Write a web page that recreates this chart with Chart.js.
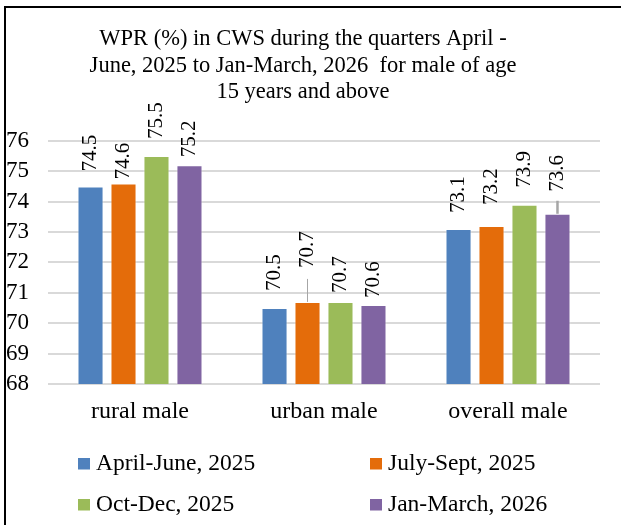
<!DOCTYPE html>
<html>
<head>
<meta charset="utf-8">
<title>WPR (%) in CWS - male</title>
<script src="https://cdn.jsdelivr.net/npm/chart.js@4"></script>
<style>
  html, body { margin: 0; padding: 0; background: #fff; overflow: hidden; }
  #frame {
    position: absolute; left: 4px; top: 6px; width: 615px; height: 519px;
    border-left: 2px solid #000; border-top: 2px solid #000;
  }
  #wrap { position: absolute; left: 0; top: 0; width: 621px; height: 525px; }
</style>
</head>
<body>
<div id="frame"></div>
<div id="wrap"><canvas id="wprChart"></canvas></div>
<script>
// ---- data ----
const categories = ['rural male', 'urban male', 'overall male'];
const quarters = ['April-June, 2025', 'July-Sept, 2025', 'Oct-Dec, 2025', 'Jan-March, 2026'];
const aprJun2025 = [74.5, 70.5, 73.1];
const julSep2025 = [74.6, 70.7, 73.2];
const octDec2025 = [75.5, 70.7, 73.9];
const janMar2026 = [75.2, 70.6, 73.6];
const yMin = 68;
const yMax = 76;
const titleLines = [
  'WPR (%) in CWS during the quarters April -',
  'June, 2025 to Jan-March, 2026  for male of age',
  '15 years and above'
];

const seriesValues = [aprJun2025, julSep2025, octDec2025, janMar2026];
const seriesColors = ['#4f81bd', '#e46c0a', '#9bbb59', '#8064a2'];
const serif = '"Liberation Serif", "Times New Roman", serif';

// rotated value labels above each bar (hand placed like in the original)
const barLabels = {
  id: 'barLabels',
  afterDatasetsDraw(chart, args, opts) {
    const ctx = chart.ctx;
    ctx.save();
    // leader lines first
    opts.leaders.forEach(([i, j, len, w]) => {
      const bar = chart.getDatasetMeta(i).data[j];
      ctx.strokeStyle = '#a6a6a6';
      ctx.lineWidth = w;
      ctx.beginPath();
      ctx.moveTo(bar.x, bar.y);
      ctx.lineTo(bar.x, bar.y - len);
      ctx.stroke();
    });
    ctx.font = '21px ' + serif;
    ctx.fillStyle = '#000';
    ctx.textAlign = 'left';
    ctx.textBaseline = 'middle';
    chart.data.datasets.forEach((ds, i) => {
      chart.getDatasetMeta(i).data.forEach((bar, j) => {
        ctx.save();
        ctx.translate(bar.x, bar.y - opts.lift[i][j]);
        ctx.rotate(-Math.PI / 2);
        ctx.fillText(ds.data[j].toFixed(1), 0, 0);
        ctx.restore();
      });
    });
    ctx.restore();
  }
};

// two-column legend at the bottom
const gridLegend = {
  id: 'gridLegend',
  afterDraw(chart) {
    const ctx = chart.ctx;
    const cols = [78, 370];
    const rows = [470, 511];
    ctx.save();
    ctx.font = '23.5px ' + serif;
    ctx.textBaseline = 'alphabetic';
    ctx.textAlign = 'left';
    chart.data.datasets.forEach((ds, i) => {
      const x = cols[i % 2];
      const y = rows[Math.floor(i / 2)];
      ctx.fillStyle = ds.backgroundColor;
      ctx.fillRect(x, y - 12, 12, 11.5);
      ctx.fillStyle = '#000';
      ctx.fillText(ds.label, x + 18, y);
    });
    ctx.restore();
  }
};

const ctx = document.getElementById('wprChart').getContext('2d');
new Chart(ctx, {
  type: 'bar',
  data: {
    labels: categories,
    datasets: quarters.map((q, i) => ({
      label: q,
      data: seriesValues[i],
      backgroundColor: seriesColors[i],
      borderColor: 'rgba(255,255,255,0.45)',
      borderWidth: 1,
      categoryPercentage: 0.717,
      barPercentage: 0.79
    }))
  },
  options: {
    responsive: true,
    maintainAspectRatio: false,
    animation: false,
    layout: { padding: { left: 6, right: 21, top: 0, bottom: 91 } },
    plugins: {
      legend: { display: false },
      tooltip: { enabled: false },
      title: {
        display: true,
        text: titleLines,
        color: '#000',
        font: { family: serif, size: 22.5, weight: 'normal', lineHeight: 1.19 },
        padding: { top: 25.5, bottom: 35 }
      },
      barLabels: {
        lift: [
          [15, 17, 16],
          [4, 34, 21],
          [17, 9, 17],
          [8, 7, 22]
        ],
        leaders: [
          [1, 1, 23, 1],
          [3, 2, 13, 2.5]
        ]
      }
    },
    scales: {
      x: {
        grid: { display: false, drawTicks: false },
        border: { display: false },
        ticks: {
          color: '#000',
          padding: 13,
          font: { family: serif, size: 24 }
        },
        afterFit(scale) { scale.height = 50; }
      },
      y: {
        min: yMin,
        max: yMax,
        grid: { color: '#d9d9d9', lineWidth: 2, drawTicks: false },
        border: { display: false },
        ticks: {
          stepSize: 1,
          autoSkip: false,
          color: '#000',
          crossAlign: 'far',
          padding: 0,
          font: { family: serif, size: 23 }
        },
        afterFit(scale) { scale.width = 42; }
      }
    }
  },
  plugins: [barLabels, gridLegend]
});
</script>
</body>
</html>
